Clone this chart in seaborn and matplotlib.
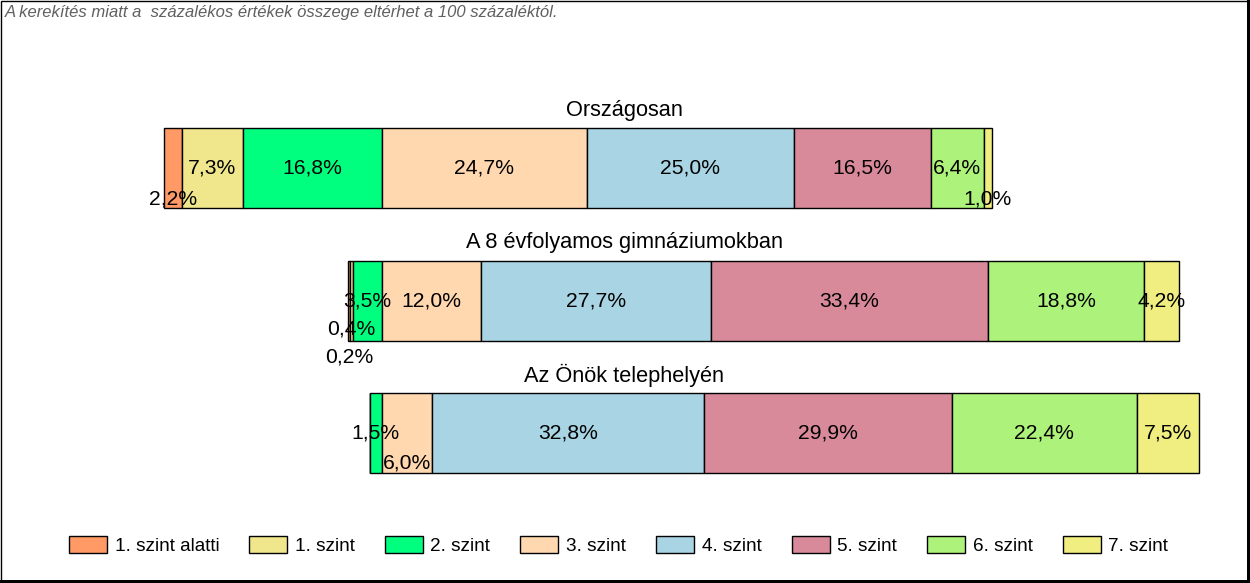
import matplotlib
matplotlib.use("Agg")
import matplotlib.pyplot as plt
import seaborn as sns
import pandas as pd
import numpy as np
from matplotlib.patches import Rectangle, Patch

# ---- data ----
categories = ["Országosan", "A 8 évfolyamos gimnáziumokban", "Az Önök telephelyén"]
levels = ["1. szint alatti", "1. szint", "2. szint", "3. szint",
          "4. szint", "5. szint", "6. szint", "7. szint"]
orszagosan = [2.2, 7.3, 16.8, 24.7, 25.0, 16.5, 6.4, 1.0]
gimnazium8 = [0.2, 0.4, 3.5, 12.0, 27.7, 33.4, 18.8, 4.2]
telephely = [0.0, 0.0, 1.5, 6.0, 32.8, 29.9, 22.4, 7.5]
note = "A kerekítés miatt a  százalékos értékek összege eltérhet a 100 százaléktól."

colors = ["#FF9966", "#F0E68C", "#00FF7F", "#FFD8B0",
          "#A8D4E4", "#D8899A", "#ADF27B", "#F0EE80"]

series = [orszagosan, gimnazium8, telephely]
vals = np.array(series)

# bars aligned at the boundary between "2. szint" and "3. szint"
start = -vals[:, :3].sum(axis=1)
cum_left = start[:, None] + np.concatenate([np.zeros((3, 1)), np.cumsum(vals, axis=1)[:, :-1]], axis=1)

rows = []
for ci, cat in enumerate(categories):
    for li, lev in enumerate(levels):
        rows.append({"group": cat, "level": lev, "value": vals[ci, li]})
df = pd.DataFrame(rows)

sns.set_theme(style="white")
plt.rcParams["font.family"] = ["Liberation Sans", "DejaVu Sans"]
plt.rcParams["text.color"] = "black"

fig = plt.figure(figsize=(12.5, 5.83), dpi=100)
ax = fig.add_axes([0, 0, 1, 1])

bar_h = 80 / 132.5
for li, lev in enumerate(levels):
    sub = df[df["level"] == lev]
    sns.barplot(data=sub, x="value", y="group", order=categories, orient="h",
                color=colors[li], edgecolor="black", linewidth=1.0,
                width=bar_h, left=list(cum_left[:, li]), ax=ax,
                saturation=1, errorbar=None)

px_per = 8.29
ax.set_xlim(-382 / px_per, (1250 - 382) / px_per)
ax.set_ylim(3.132, -1.268)
ax.set_axis_off()

# label vertical offsets (pixels) for crowded small segments
offsets = {(0, 0): 31, (0, 7): 31, (1, 1): 28, (1, 0): 56, (2, 3): 30}
for ci in range(3):
    for li in range(len(levels)):
        v = vals[ci, li]
        if v <= 0:
            continue
        xc = cum_left[ci, li] + v / 2
        dy = offsets.get((ci, li), 0) / 132.5
        ax.text(xc, ci + dy, f"{v:.1f}%".replace(".", ","), ha="center", va="center",
                fontsize=15.2, color="black")

# group titles
ytr = ax.get_yaxis_transform()
for ci, cat in enumerate(categories):
    ax.text(0.4996, ci - bar_h / 2 - 18 / 132.5, cat, transform=ytr,
            ha="center", va="center", fontsize=15.7, color="black")

# note
fig.text(5 / 1250, 1 - 13 / 583, note, ha="left", va="center", fontsize=12,
         style="italic", color="#606060")

# legend
handles = [Patch(facecolor=c, edgecolor="black", linewidth=1) for c in colors]
leg = fig.legend(handles, levels, loc="center", bbox_to_anchor=(618.5 / 1250, 1 - 545.5 / 583),
                 ncol=8, frameon=False, fontsize=13.7, handlelength=2.0, handleheight=1.0,
                 handletextpad=0.4, columnspacing=1.58, borderpad=0)
for t in leg.get_texts():
    t.set_color("black")

# frame
fig.patches.append(Rectangle((0.5 / 1250, 0), 1 - 2 / 1250, 1 - 0.5 / 583, transform=fig.transFigure,
                             fill=False, edgecolor="black", linewidth=1.0))
fig.patches.append(Rectangle((1 - 3 / 1250, 0), 3 / 1250, 1, transform=fig.transFigure,
                             facecolor="black", edgecolor="none"))
fig.patches.append(Rectangle((0, 0), 1, 3 / 583, transform=fig.transFigure,
                             facecolor="black", edgecolor="none"))

fig.savefig("out.png", dpi=100)
